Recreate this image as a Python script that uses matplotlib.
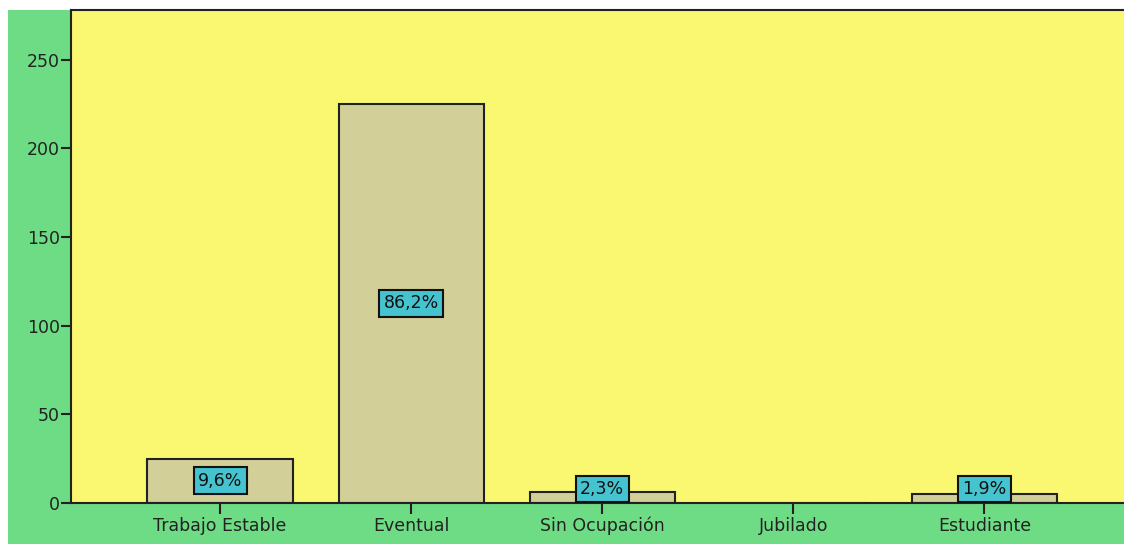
import numpy as np
import matplotlib.pyplot as plt
from matplotlib.patches import Rectangle

# datos
categorias = ["Trabajo Estable", "Eventual", "Sin Ocupación", "Jubilado", "Estudiante"]
frecuencias = [25, 225, 6, 0, 5]
porcentajes = ["9,6%", "86,2%", "2,3%", None, "1,9%"]
y_ticks = [0, 50, 100, 150, 200, 250]

verde = "#6edc85"
amarillo = "#faf770"
barra = "#d3cf98"
cian = "#45c3cf"

fig = plt.figure(figsize=(11.24, 5.44), dpi=100)
fig.patch.set_facecolor("white")
# fondo verde del marco
fondo = Rectangle((8 / 1124, 0), 1, 1 - 10 / 544, transform=fig.transFigure,
                  facecolor=verde, edgecolor="none", zorder=-10)
fig.add_artist(fondo)

ax = fig.add_axes([71 / 1124, 41 / 544, 1053 / 1124, 493 / 544])
ax.set_zorder(5)
ax.set_facecolor(amarillo)

x = np.arange(len(categorias))
ax.bar(x, frecuencias, width=0.76, color=barra, edgecolor="#222222", linewidth=1.5, zorder=2)

caja = dict(boxstyle="square,pad=0.25", facecolor=cian, edgecolor="#111111", linewidth=1.5)
for xi, v, p in zip(x, frecuencias, porcentajes):
    if p is None:
        continue
    if v / 2 > 10:
        ax.text(xi, v / 2, p, ha="center", va="center", fontsize=12.5, color="#111111",
                zorder=3, bbox=caja)
    else:
        ax.annotate(p, (xi, 0), xytext=(0, 3.5), textcoords="offset points", ha="center",
                    va="bottom", fontsize=12.5, color="#111111", zorder=3, bbox=caja)

ax.set_xlim(-0.78, 4.73)
ax.set_ylim(0, 278)
ax.set_yticks(y_ticks)
ax.set_xticks(x)
ax.set_xticklabels(categorias)
ax.tick_params(axis="both", labelsize=12.5, colors="#222222", width=1.5)
ax.tick_params(axis="y", length=7, pad=1)
ax.tick_params(axis="x", length=8, pad=2)
ax.spines["right"].set_visible(False)
for s in ["left", "top", "bottom"]:
    ax.spines[s].set_linewidth(1.5)
    ax.spines[s].set_color("#222222")

fig.savefig("out.png", dpi=100, facecolor=fig.get_facecolor())
